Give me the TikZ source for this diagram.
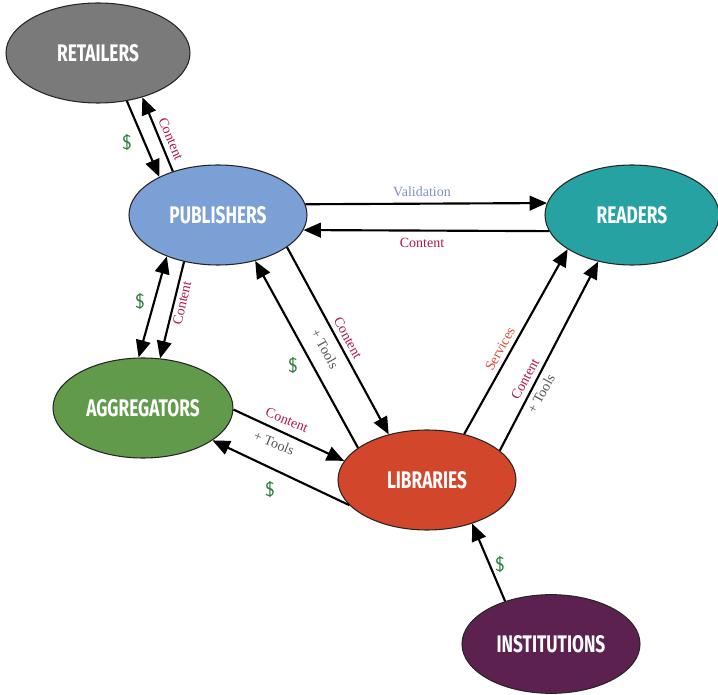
\documentclass[tikz,border=0pt]{standalone}
\usepackage{fontspec}
\setmainfont{Liberation Serif}
\newfontfamily\nodefont[FakeStretch=0.72]{Fira Sans}
\usetikzlibrary{shapes.geometric,arrows.meta}
\definecolor{cret}{HTML}{7A7A7A}
\definecolor{cpub}{HTML}{7AA0D6}
\definecolor{crea}{HTML}{27A2A2}
\definecolor{cagg}{HTML}{619A4A}
\definecolor{clib}{HTML}{D2472B}
\definecolor{cins}{HTML}{5D2150}
\definecolor{ccontent}{HTML}{B3174E}
\definecolor{ctools}{HTML}{555555}
\definecolor{cserv}{HTML}{E04A3C}
\definecolor{cvalid}{HTML}{7F8FC4}
\definecolor{cmoney}{HTML}{2F7D3A}
\begin{document}
\begin{tikzpicture}[x=0.75pt,y=-0.75pt,
  place/.style={ellipse, draw=black!85, line width=0.8pt, text=white,
    font=\nodefont\bfseries\fontsize{18}{20}\selectfont, inner sep=0pt,
    minimum height=75pt},
  conn/.style={line width=1.6pt, -{Triangle[length=13pt,width=11pt]}},
  conntwo/.style={line width=1.6pt, {Triangle[length=13pt,width=11pt]}-{Triangle[length=13pt,width=11pt]}},
  lbl/.style={font=\fontsize{10.5}{12}\selectfont, inner sep=0.5pt},
  contentlbl/.style={lbl, text=ccontent},
  toolslbl/.style={lbl, text=ctools},
  money/.style={font=\sffamily\fontsize{15}{16}\selectfont, text=cmoney, inner sep=1pt}]
\useasboundingbox (0,0) rectangle (718,695);

\node[place, fill=cret, minimum width=138pt] (R) at (98,53) {RETAILERS};
\node[place, fill=cpub, minimum width=133.5pt] (P) at (218,215) {PUBLISHERS};
\node[place, fill=crea, minimum width=130.5pt] (D) at (632,215) {READERS};
\node[place, fill=cagg, minimum width=135pt] (A) at (143,408) {AGGREGATORS};
\node[place, fill=clib, minimum width=133.5pt] (L) at (427,480) {LIBRARIES};
\node[place, fill=cins, minimum width=133.5pt, minimum height=74pt] (I) at (551,644) {INSTITUTIONS};

\draw[conn] (R.-59.7) -- (P.147.5);
\draw[conn] (P.136.3) -- (R.-45);
\draw[conntwo] (P.-141) -- (A.95.7);
\draw[conn] (P.-126.7) -- (A.71.2);
\draw[conn] (P.7) -- (D.172.7);
\draw[conn] (D.-169.6) -- (P.-10);
\draw[conn] (P.-25) -- (L.130.9);
\draw[conn] (L.155) -- (P.-51.2);
\draw[conn] (A.-1.3) -- (L.167.6);
\draw[conn] (L.-162) -- (A.-25.9);
\draw[conn] (L.51.3) -- (D.-152.4);
\draw[conn] (L.22.9) -- (D.-126);
\draw[conn] (I.137.5) -- (L.-44);

\node[money] (m1) at (127,143) {\$};
\node[contentlbl, rotate=-67] (c1) at (171,139) {Content};
\node[money] (m2) at (140,302) {\$};
\node[contentlbl, rotate=77] (c2) at (182,303) {Content};
\node[lbl, text=cvalid] (v1) at (422,192) {Validation};
\node[contentlbl] (c3) at (422,243) {Content};
\node[contentlbl, rotate=-61] (c4) at (348,338) {Content};
\node[toolslbl, rotate=-61] (t4) at (325,349) {+ Tools};
\node[money] (m4) at (293,366) {\$};
\node[contentlbl, rotate=-22] (c5) at (287,420) {Content};
\node[toolslbl, rotate=-22] (t5) at (274,443) {+ Tools};
\node[money] (m5) at (270,490) {\$};
\node[lbl, text=cserv, rotate=61] (s6) at (500,349) {Services};
\node[contentlbl, rotate=61] (c6) at (525,379) {Content};
\node[toolslbl, rotate=61] (t6) at (541,394) {+ Tools};
\node[money] (m7) at (500,565) {\$};
\end{tikzpicture}
\end{document}
